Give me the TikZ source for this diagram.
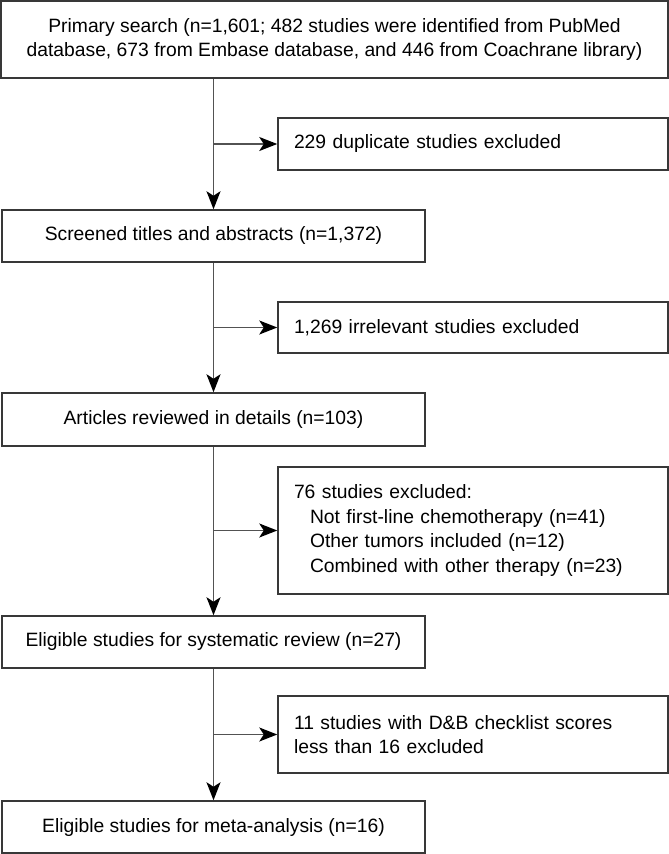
\documentclass[tikz,border=0pt]{standalone}
\usepackage{fontspec}
\setmainfont{Liberation Sans}
\usetikzlibrary{arrows.meta}
\tikzset{
  box/.style={draw=black!78, line width=1.5pt, rectangle, inner sep=0pt,
    font=\fontsize{19.3}{24.5}\selectfont, align=center},
  sidebox/.style={box, align=left, text width=358pt, inner xsep=16pt},
  link/.style={draw=black!68, line width=1.5pt,
    -{Stealth[length=18pt, width=14pt, inset=4.5pt, black]}},
}
\newcommand{\ind}{\hspace*{16pt}}
\begin{document}
\begin{tikzpicture}[x=1pt,y=-1pt]
\useasboundingbox (0,0) rectangle (669,854);
\node[box, minimum width=667pt, minimum height=77pt] (b1) at (334.5,39.5)
  {Primary search (n=1,601; 482 studies were identified from PubMed\\
   database, 673 from Embase database, and 446 from Coachrane library)};
\node[sidebox, minimum height=52pt] (s1) at (473,144) {229 duplicate studies excluded};
\node[box, minimum width=423pt, minimum height=52pt] (b2) at (213.5,236)
  {Screened titles and abstracts (n=1,372)};
\node[sidebox, minimum height=51pt] (s2) at (473,327.5) {1,269 irrelevant studies excluded};
\node[box, minimum width=423pt, minimum height=53pt] (b3) at (213.5,419.5)
  {Articles reviewed in details (n=103)};
\node[sidebox, minimum height=127pt] (s3) at (473,530.5)
  {76 studies excluded:\\
   \ind Not first-line chemotherapy (n=41)\\
   \ind Other tumors included (n=12)\\
   \ind Combined with other therapy (n=23)};
\node[box, minimum width=423pt, minimum height=52pt] (b4) at (213.5,642)
  {Eligible studies for systematic review (n=27)};
\node[sidebox, minimum height=77pt] (s4) at (473,734.5)
  {11 studies with D\&B checklist scores\\ less than 16 excluded};
\node[box, minimum width=423pt, minimum height=52pt] (b5) at (213.5,827)
  {Eligible studies for meta-analysis (n=16)};

\draw[link] (b1.south -| b2.north) -- (b2.north);
\draw[link] (s1.west -| b2.north) -- (s1.west);
\draw[link] (b2.south) -- (b3.north);
\draw[link] (s2.west -| b2.south) -- (s2.west);
\draw[link] (b3.south) -- (b4.north);
\draw[link] (s3.west -| b3.south) -- (s3.west);
\draw[link] (b4.south) -- (b5.north);
\draw[link] (s4.west -| b4.south) -- (s4.west);
\end{tikzpicture}
\end{document}
